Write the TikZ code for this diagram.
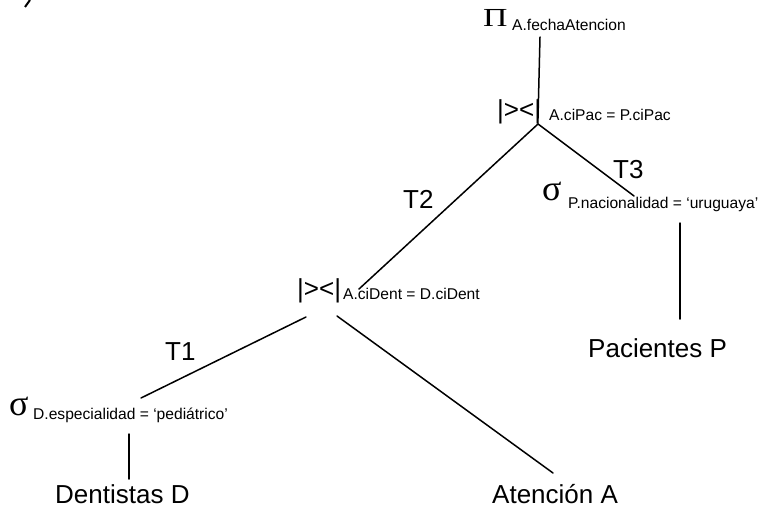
\documentclass[tikz,border=0pt]{standalone}
\usepackage{fontspec}
\setmainfont{Liberation Sans}
\newfontfamily\greekfont{Liberation Serif}
\begin{document}
\begin{tikzpicture}[x=1pt,y=-1pt,
  lbl/.style={inner sep=0pt,anchor=base west,font=\fontsize{26}{30}\selectfont},
  cond/.style={inner sep=0pt,anchor=base west,font=\fontsize{15.6}{18}\selectfont},
  opsym/.style={inner sep=0pt,anchor=base west,font=\greekfont\fontsize{26}{30}\selectfont},
  selsym/.style={inner sep=0pt,anchor=base west,font=\greekfont\fontsize{36}{40}\selectfont},
  joinsym/.style={inner sep=0pt,anchor=base west,font=\fontsize{26}{30}\selectfont},
  edge/.style={line width=1.5pt,line cap=round}]
\useasboundingbox (0,0) rectangle (759,508);

% fragment of the part marker in the corner
\draw[line width=2pt] (25,7) -- (30,0);

% projection
\node[opsym] (proj) at (483,27) {\scalebox{1.3}[1]{Π}};
\node[cond] (projc) at (512,31) {A.fechaAtencion};

% upper join
\node[joinsym] (j1) at (497,118) {|>{}<|};
\node[cond] (j1c) at (549,120) {A.ciPac = P.ciPac};

% selection on patients
\node[selsym] (s2) at (542,200) {σ};
\node[cond] (s2c) at (568,208) {P.nacionalidad = ‘uruguaya’};

% lower join
\node[joinsym] (j2) at (297,297) {|>{}<|};
\node[cond] (j2c) at (343,299) {A.ciDent = D.ciDent};

% selection on dentists
\node[selsym] (s1) at (9,415) {σ};
\node[cond] (s1c) at (33,419) {D.especialidad = ‘pediátrico’};

% relations
\node[lbl] (pac) at (588,357) {Pacientes P};
\node[lbl] (den) at (55,503) {Dentistas D};
\node[lbl] (ate) at (492,503) {Atención A};

% temporary results
\node[lbl] (t1) at (165,360) {T1};
\node[lbl] (t2) at (403,208) {T2};
\node[lbl] (t3) at (613,178) {T3};

% connector end points
\coordinate (projB) at (540,37);
\coordinate (j1T) at (538,118);
\coordinate (j1B) at (538,124);
\coordinate (s2T) at (634,196);
\coordinate (s2B) at (680,223);
\coordinate (pacT) at (680,319);
\coordinate (j2R) at (359,289);
\coordinate (j2L) at (306,317);
\coordinate (j2D) at (337,316);
\coordinate (s1T) at (141,398);
\coordinate (s1B) at (129,434);
\coordinate (denT) at (129,479);
\coordinate (ateT) at (553,473);

\draw[edge] (projB) -- (j1T);
\draw[edge] (j1B) -- (j2R);
\draw[edge] (j1B) -- (s2T);
\draw[edge] (s2B) -- (pacT);
\draw[edge] (j2L) -- (s1T);
\draw[edge] (j2D) -- (ateT);
\draw[edge] (s1B) -- (denT);
\end{tikzpicture}
\end{document}
